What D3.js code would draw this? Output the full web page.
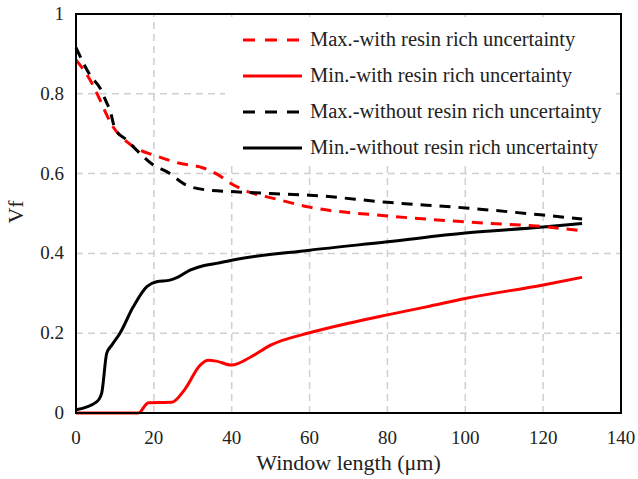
<!DOCTYPE html>
<html>
<head>
<meta charset="utf-8">
<script src="https://cdn.jsdelivr.net/npm/d3@7"></script>
<style>
  body { margin: 0; background: #fff; }
  text { font-family: "Liberation Serif", "Times New Roman", serif; fill: #222; }
</style>
</head>
<body>
<div id="container"></div>
<script>
// window length (um) and Vf
var maxWithX = [0, 3.6, 6.2, 7.9, 9.2, 12.1, 16.4, 19.8, 26.6, 32.7, 36, 40, 44.7, 50.7, 60, 80, 100, 120, 130];
var maxWithY = [0.885, 0.835, 0.784, 0.747, 0.722, 0.688, 0.659, 0.647, 0.626, 0.614, 0.600, 0.574, 0.553, 0.538, 0.516, 0.494, 0.479, 0.467, 0.457];

var minWithX = [0, 16, 18.6, 24.6, 28, 31.9, 34, 36, 40, 45, 50, 60, 70, 80, 90, 100, 120, 130];
var minWithY = [0, 0, 0.026, 0.027, 0.06, 0.12, 0.132, 0.13, 0.12, 0.141, 0.17, 0.201, 0.225, 0.246, 0.266, 0.287, 0.321, 0.340];

var maxWithoutX = [0, 3.6, 6.2, 7.9, 8.7, 10, 13, 16.4, 19.8, 23.3, 28.4, 33.6, 40, 50, 60, 80, 100, 120, 130];
var maxWithoutY = [0.916, 0.847, 0.814, 0.777, 0.76, 0.713, 0.684, 0.651, 0.622, 0.605, 0.571, 0.559, 0.555, 0.55, 0.546, 0.528, 0.514, 0.496, 0.486];

var minWithoutX = [0, 5.3, 6.6, 7.9, 9.2, 11.3, 14.7, 18.2, 20.7, 24.1, 25.9, 29.3, 32.7, 36.1, 40, 60, 80, 100, 120, 130];
var minWithoutY = [0.008, 0.028, 0.05, 0.15, 0.17, 0.2, 0.266, 0.317, 0.329, 0.333, 0.339, 0.358, 0.369, 0.375, 0.383, 0.408, 0.429, 0.451, 0.466, 0.475];

var seriesNames = [
  "Max.-with resin rich uncertainty",
  "Min.-with resin rich uncertainty",
  "Max.-without resin rich uncertainty",
  "Min.-without resin rich uncertainty"
];
var seriesColors = ["#ff0000", "#ff0000", "#000000", "#000000"];
var seriesDashed = [true, false, true, false];

var xTicks = [0, 20, 40, 60, 80, 100, 120, 140];
var yTicks = [0, 0.2, 0.4, 0.6, 0.8, 1];

var width = 638, height = 479;
var margin = { top: 14, right: 17, bottom: 66, left: 76 };

var svg = d3.select("#container")
  .append("svg")
  .attr("width", width)
  .attr("height", height);

var x = d3.scaleLinear().domain([0, 140]).range([margin.left, width - margin.right]);
var y = d3.scaleLinear().domain([0, 1]).range([height - margin.bottom, margin.top]);

// grid
svg.append("g")
  .selectAll("line")
  .data(xTicks.slice(1, -1))
  .enter()
  .append("line")
  .attr("x1", d => x(d)).attr("x2", d => x(d))
  .attr("y1", y(0)).attr("y2", y(1))
  .style("stroke", "#d0d0d0")
  .style("stroke-width", 1.5)
  .style("stroke-dasharray", "7,5");

svg.append("g")
  .selectAll("line")
  .data(yTicks.slice(1, -1))
  .enter()
  .append("line")
  .attr("x1", x(0)).attr("x2", x(140))
  .attr("y1", d => y(d)).attr("y2", d => y(d))
  .style("stroke", "#d0d0d0")
  .style("stroke-width", 1.5)
  .style("stroke-dasharray", "7,5");

// legend box (white, hides grid behind it)
var legend = svg.append("g").attr("transform", "translate(225, 21)");
legend.append("rect")
  .attr("width", 391)
  .attr("height", 144)
  .attr("fill", "#fff");

// series
var xs = [maxWithX, minWithX, maxWithoutX, minWithoutX];
var ys = [maxWithY, minWithY, maxWithoutY, minWithoutY];

var line = d3.line()
  .x(d => x(d[0]))
  .y(d => y(d[1]))
  .curve(d3.curveMonotoneX);

// draw order: solid first so dashes sit on top
[1, 3, 0, 2].forEach(function(i) {
  var pts = xs[i].map((v, k) => [v, ys[i][k]]);
  svg.append("path")
    .datum(pts)
    .attr("d", line)
    .style("fill", "none")
    .style("stroke", seriesColors[i])
    .style("stroke-width", 3)
    .style("stroke-dasharray", seriesDashed[i] ? "11,8" : null);
});

// frame
svg.append("rect")
  .attr("x", x(0)).attr("y", y(1))
  .attr("width", x(140) - x(0))
  .attr("height", y(0) - y(1))
  .attr("fill", "none")
  .attr("stroke", "#000")
  .attr("stroke-width", 2);

// tick labels
svg.append("g")
  .selectAll("text")
  .data(xTicks)
  .enter()
  .append("text")
  .attr("x", d => x(d))
  .attr("y", y(0) + 31)
  .attr("text-anchor", "middle")
  .style("font-size", "19px")
  .text(d => d);

svg.append("g")
  .selectAll("text")
  .data(yTicks)
  .enter()
  .append("text")
  .attr("x", x(0) - 12)
  .attr("y", d => y(d) + 6)
  .attr("text-anchor", "end")
  .style("font-size", "19px")
  .text(d => d);

// axis titles
svg.append("text")
  .attr("x", (x(0) + x(140)) / 2)
  .attr("y", 470)
  .attr("text-anchor", "middle")
  .style("font-size", "22px")
  .text("Window length (\u03bcm)");

svg.append("text")
  .attr("transform", "translate(23, 212) rotate(-90)")
  .attr("text-anchor", "middle")
  .style("font-size", "22px")
  .text("Vf");

// legend entries
seriesNames.forEach(function(name, i) {
  var ly = 19 + i * 36;
  legend.append("line")
    .attr("x1", 18).attr("x2", 77)
    .attr("y1", ly).attr("y2", ly)
    .style("stroke", seriesColors[i])
    .style("stroke-width", 3)
    .style("stroke-dasharray", seriesDashed[i] ? "12,10" : null);
  legend.append("text")
    .attr("x", 85)
    .attr("y", ly + 6)
    .style("font-size", "20.5px")
    .text(name);
});
</script>
</body>
</html>
